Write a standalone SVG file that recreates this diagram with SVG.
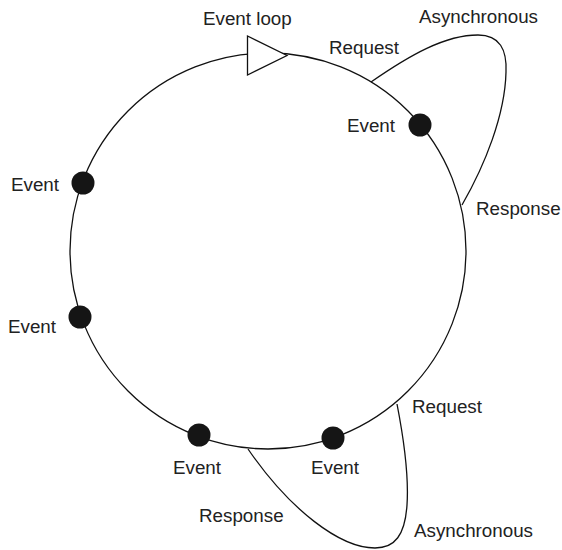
<svg xmlns="http://www.w3.org/2000/svg" width="562" height="550" viewBox="0 0 562 550">
  <style>
    .line { fill: none; stroke: #111; stroke-width: 1.3; }
    .dot { fill: #151515; }
    .lbl { font-family: "Liberation Sans", Arial, sans-serif; font-size: 18.8px; fill: #222; }
  </style>
  <rect width="562" height="550" fill="#fff"/>

  <!-- event loop ring -->
  <g id="loop">
    <circle class="line" cx="268" cy="251" r="198"/>
    <polygon points="247.5,36 247.5,75 287,55.5" fill="#fff" stroke="#111" stroke-width="1.3"/>
    <text class="lbl" x="203" y="24.5">Event loop</text>
  </g>

  <!-- asynchronous request/response loops -->
  <g id="connectors">
    <path class="line" d="M371,82 C410,55 445,35 478,35 C500,35 507,50 506,72 C505,115 485,165 462,205"/>
    <path class="line" d="M397,404 C404,440 409,475 407,505 C405,535 395,548 375,548 C340,548 290,510 248,449"/>
  </g>

  <g id="async-top">
    <text class="lbl" x="329" y="54">Request</text>
    <text class="lbl" x="419" y="23">Asynchronous</text>
    <text class="lbl" x="476" y="215">Response</text>
  </g>
  <g id="async-bottom">
    <text class="lbl" x="412" y="413">Request</text>
    <text class="lbl" x="414" y="537">Asynchronous</text>
    <text class="lbl" x="199" y="522">Response</text>
  </g>

  <!-- events on the ring -->
  <g id="event-1">
    <circle class="dot" cx="420" cy="125" r="11.5"/>
    <text class="lbl" x="347" y="132">Event</text>
  </g>
  <g id="event-2">
    <circle class="dot" cx="83" cy="183" r="11.5"/>
    <text class="lbl" x="11" y="191">Event</text>
  </g>
  <g id="event-3">
    <circle class="dot" cx="80" cy="317" r="11.5"/>
    <text class="lbl" x="8" y="333">Event</text>
  </g>
  <g id="event-4">
    <circle class="dot" cx="199" cy="435" r="11.5"/>
    <text class="lbl" x="173" y="474">Event</text>
  </g>
  <g id="event-5">
    <circle class="dot" cx="333" cy="438" r="11.5"/>
    <text class="lbl" x="311" y="474">Event</text>
  </g>
</svg>
